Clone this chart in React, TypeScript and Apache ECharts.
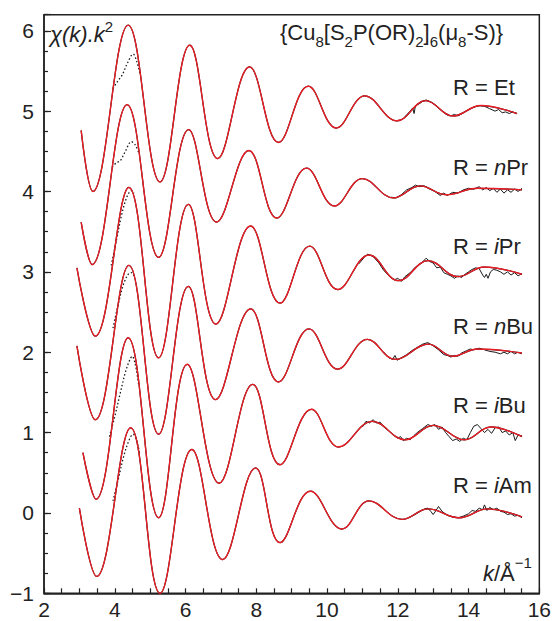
import { useEffect, useRef } from 'react';
import * as echarts from 'echarts';

const F = '"Liberation Sans", Arial, Helvetica, sans-serif';
const BLACK = '#1a1a1a';
const RED = '#ec1c24';

// Axis ranges / tick values
const xMin = 2, xMax = 16, xStep = 2;
const yMin = -1, yMax = 6.2, yStep = 1, yMinorStep = 0.25;

// ---- R = Et (offset 5) ----
const etFit = [[3.05,4.76],[3.38,4.0],[4.38,6.07],[5.28,4.12],[6.12,5.82],[6.91,4.41],[7.81,5.55],[8.63,4.61],[9.47,5.31],[10.26,4.79],[11.07,5.19],[11.98,4.88],[12.79,5.13],[13.56,4.94],[14.35,5.07],[15.37,4.97]];
const etDot = [[3.95,5.28],[4.08,5.37],[4.21,5.45],[4.36,5.6],[4.52,5.71],[4.62,5.62],[4.72,5.45]];
const etNoise = [[12.2,4.93],[12.35,5.0],[12.42,5.04],[12.46,4.97],[12.5,5.07],[12.6,5.09],[12.7,5.12],[12.8,5.14],[12.95,5.11],[13.1,5.06],[13.25,5.0],[13.4,4.95],[13.5,4.94],[13.6,4.96],[13.7,4.94],[13.85,4.98],[14.0,5.02],[14.15,5.05],[14.3,5.07],[14.45,5.06],[14.6,5.03],[14.75,5.0],[14.85,5.02],[14.95,4.98],[15.05,4.99],[15.15,4.97],[15.25,4.99],[15.37,4.97]];

// ---- R = nPr (offset 4) ----
const nprFit = [[3.05,3.62],[3.36,3.09],[4.35,5.08],[5.24,3.18],[6.09,4.77],[6.88,3.62],[7.79,4.51],[8.58,3.67],[9.42,4.29],[10.21,3.82],[11.0,4.16],[11.88,3.92],[12.63,4.07],[13.37,3.96],[14.25,4.04],[15.51,4.02]];
const nprDot = [[3.93,4.3],[4.05,4.36],[4.15,4.38],[4.3,4.5],[4.47,4.62],[4.58,4.58],[4.68,4.48]];
const nprNoise = [[11.8,3.93],[11.95,3.92],[12.1,3.96],[12.25,4.02],[12.4,4.05],[12.5,4.08],[12.6,4.06],[12.75,4.07],[12.9,4.03],[13.05,4.0],[13.2,3.95],[13.3,3.98],[13.4,3.95],[13.55,3.99],[13.7,3.98],[13.85,4.02],[14.0,4.04],[14.15,4.03],[14.3,4.06],[14.4,4.02],[14.5,4.05],[14.6,4.01],[14.7,4.04],[14.8,3.99],[14.9,4.03],[15.0,3.98],[15.1,4.02],[15.2,3.99],[15.3,4.03],[15.4,4.0],[15.51,4.04]];

// ---- R = iPr (offset 3) ----
const iprFit = [[2.93,3.05],[3.45,2.2],[4.4,4.05],[5.24,1.93],[6.08,3.84],[6.86,2.35],[7.84,3.57],[8.67,2.61],[9.51,3.32],[10.3,2.78],[11.19,3.21],[12.02,2.89],[12.86,3.14],[13.7,2.94],[14.44,3.06],[15.51,2.97]];
const iprDot = [[3.9,3.08],[4.05,3.4],[4.2,3.72],[4.35,3.94],[4.47,4.01],[4.55,3.98]];
const iprNoise = [[10.9,3.1],[11.05,3.18],[11.15,3.22],[11.3,3.19],[11.45,3.12],[11.6,3.02],[11.75,2.95],[11.9,2.9],[12.0,2.92],[12.1,2.88],[12.2,2.94],[12.35,2.99],[12.5,3.06],[12.65,3.1],[12.8,3.17],[12.9,3.13],[13.0,3.11],[13.1,3.05],[13.2,3.06],[13.3,2.99],[13.4,2.97],[13.5,2.95],[13.6,2.92],[13.7,2.95],[13.8,2.93],[13.9,2.97],[14.0,3.0],[14.1,3.03],[14.2,3.05],[14.3,3.04],[14.4,2.96],[14.45,2.93],[14.5,2.97],[14.55,2.92],[14.62,3.0],[14.7,3.03],[14.8,3.02],[14.9,3.0],[15.0,2.97],[15.1,3.0],[15.2,2.96],[15.3,2.99],[15.4,2.95],[15.51,2.98]];

// ---- R = nBu (offset 2) ----
const nbuFit = [[2.93,2.08],[3.45,1.16],[4.4,3.08],[5.24,0.98],[6.08,2.82],[6.85,1.41],[7.84,2.54],[8.63,1.63],[9.49,2.29],[10.3,1.79],[11.14,2.16],[11.93,1.91],[12.86,2.1],[13.56,1.95],[14.25,2.04],[15.51,1.99]];
const nbuDot = [[3.95,2.3],[4.1,2.6],[4.25,2.85],[4.38,2.97],[4.47,2.99],[4.55,2.95]];
const nbuNoise = [[11.6,2.0],[11.75,1.93],[11.85,1.91],[11.92,1.96],[11.98,1.9],[12.1,1.93],[12.25,1.97],[12.4,2.02],[12.55,2.06],[12.7,2.1],[12.85,2.12],[13.0,2.08],[13.15,2.03],[13.3,1.97],[13.4,1.96],[13.5,1.94],[13.6,1.96],[13.7,1.95],[13.8,1.99],[13.95,2.02],[14.05,2.04],[14.15,2.03],[14.3,2.05],[14.45,2.03],[14.6,2.01],[14.75,2.0],[14.9,1.98],[15.0,2.0],[15.1,1.98],[15.2,2.01],[15.3,1.98],[15.4,2.0],[15.51,1.98]];

// ---- R = iBu (offset 1) ----
const ibuFit = [[3.1,0.75],[3.47,0.17],[4.38,2.18],[5.24,-0.06],[6.05,1.85],[6.95,0.37],[7.9,1.6],[8.67,0.6],[9.56,1.29],[10.33,0.82],[11.28,1.14],[12.21,0.91],[13.0,1.09],[13.88,0.91],[14.63,1.07],[15.51,0.95]];
const ibuDot = [[3.85,0.95],[4.0,1.2],[4.15,1.48],[4.3,1.75],[4.42,1.9],[4.49,1.95],[4.58,1.85],[4.68,1.58]];
const ibuNoise = [[11.0,1.07],[11.1,1.14],[11.2,1.12],[11.3,1.16],[11.4,1.12],[11.5,1.13],[11.6,1.07],[11.75,1.02],[11.9,0.96],[12.0,0.93],[12.08,0.95],[12.15,0.9],[12.25,0.93],[12.35,0.91],[12.45,0.96],[12.55,1.0],[12.7,1.05],[12.85,1.1],[12.95,1.08],[13.05,1.1],[13.15,1.04],[13.25,1.07],[13.35,1.0],[13.45,0.95],[13.55,0.9],[13.65,0.92],[13.75,0.89],[13.85,0.93],[13.95,0.91],[14.05,1.0],[14.15,1.08],[14.25,1.1],[14.35,1.05],[14.45,1.0],[14.55,1.04],[14.65,0.99],[14.75,1.06],[14.85,1.07],[14.95,1.0],[15.05,1.02],[15.15,0.97],[15.25,1.0],[15.32,0.9],[15.4,0.97],[15.51,0.96]];

// ---- R = iAm (offset 0) ----
const iamFit = [[3.0,0.06],[3.49,-0.79],[4.45,1.06],[5.28,-1.0],[6.18,0.79],[7.05,-0.58],[7.98,0.56],[8.67,-0.37],[9.53,0.27],[10.42,-0.2],[11.19,0.15],[12.12,-0.08],[12.86,0.05],[13.74,-0.06],[14.53,0.05],[15.51,-0.05]];
const iamDot = [[3.95,0.15],[4.1,0.42],[4.25,0.7],[4.4,0.9],[4.52,0.98],[4.6,0.93],[4.7,0.75]];
const iamNoise = [[12.3,-0.06],[12.45,-0.03],[12.6,0.01],[12.75,0.05],[12.85,0.06],[12.93,0.02],[13.0,-0.02],[13.08,0.03],[13.15,0.08],[13.25,0.02],[13.4,-0.03],[13.55,-0.05],[13.7,-0.06],[13.85,-0.04],[14.0,-0.01],[14.1,0.03],[14.2,0.02],[14.3,0.06],[14.4,0.04],[14.45,0.1],[14.52,0.03],[14.6,0.07],[14.7,0.04],[14.8,0.06],[14.9,0.02],[15.0,0.01],[15.1,-0.02],[15.2,-0.01],[15.3,-0.04],[15.4,-0.03],[15.51,-0.06]];

const sampleLabels = ['{a|R = Et}', '{a|R = }{i|n}{a|Pr}', '{a|R = }{i|i}{a|Pr}', '{a|R = }{i|n}{a|Bu}', '{a|R = }{i|i}{a|Bu}', '{a|R = }{i|i}{a|Am}'];
const fits = [etFit, nprFit, iprFit, nbuFit, ibuFit, iamFit];
const dots = [etDot, nprDot, iprDot, nbuDot, ibuDot, iamDot];
const noises = [etNoise, nprNoise, iprNoise, nbuNoise, ibuNoise, iamNoise];

export default function App() {
  const ref = useRef<HTMLDivElement>(null);
  useEffect(() => {
    if (!ref.current) return;
    const chart = echarts.init(ref.current, undefined, { renderer: 'svg' });

    const rich = (lh: number, off: number) => ({
      a: { fontSize: 22, fontFamily: F, fill: '#222', lineHeight: lh },
      i: { fontSize: 22, fontFamily: F, fill: '#222', lineHeight: lh, fontStyle: 'italic' },
      s: { fontSize: 15, fontFamily: F, fill: '#222', lineHeight: off, verticalAlign: 'bottom' },
      p: { fontSize: 15, fontFamily: F, fill: '#222', lineHeight: off, verticalAlign: 'top' },
    });

    const labelY = [87, 167, 246, 326, 405, 485];

    const graphic: any[] = [
      {
        type: 'text', x: 50, y: 34, z: 10,
        style: { text: '{i|χ(k).k}{p|2}', rich: rich(30, 15), verticalAlign: 'middle', align: 'left', fontSize: 22, fontFamily: F, fill: '#222' },
      },
      {
        type: 'text', x: 280, y: 32, z: 10,
        style: {
          text: '{a|{Cu}{s|8}{a|[S}{s|2}{a|P(OR)}{s|2}{a|]}{s|6}{a|(μ}{s|8}{a|-S)}}',
          rich: rich(34, 15), verticalAlign: 'middle', align: 'left', fontSize: 22, fontFamily: F, fill: '#222', lineHeight: 34,
        },
      },
      {
        type: 'text', x: 483, y: 573, z: 10,
        style: { text: '{i|k}{a|/Å}{p|−1}', rich: rich(36, 15), verticalAlign: 'middle', align: 'left', fontSize: 22, fontFamily: F, fill: '#222' },
      },
      ...sampleLabels.map((t, i) => ({
        type: 'text', x: 453, y: labelY[i], z: 10,
        style: { text: t, rich: rich(30, 15), verticalAlign: 'middle', align: 'left', fontSize: 22, fontFamily: F, fill: '#222' },
      })),
    ];

    const series: any[] = [];
    fits.forEach((d) => series.push({ type: 'line', data: d, smooth: 0.4, symbol: 'none', silent: true, lineStyle: { color: BLACK, width: 1.25 } }));
    noises.forEach((d) => series.push({ type: 'line', data: d, smooth: false, symbol: 'none', silent: true, lineStyle: { color: BLACK, width: 1.0 } }));
    dots.forEach((d) => series.push({ type: 'line', data: d, smooth: 0.35, symbol: 'none', silent: true, lineStyle: { color: BLACK, width: 1.3, type: [1.5, 2.2] } }));
    fits.forEach((d) => series.push({ type: 'line', data: d, smooth: 0.4, symbol: 'none', silent: true, lineStyle: { color: RED, width: 1.35 } }));

    const axisCol = '#222';
    chart.setOption({
      animation: false,
      backgroundColor: '#fff',
      grid: { left: 44, right: 8, top: 14.7, bottom: 27.7, show: true, borderColor: axisCol, borderWidth: 1.5, backgroundColor: 'transparent' },
      xAxis: {
        type: 'value', min: xMin, max: xMax, interval: xStep,
        axisLine: { show: true, onZero: false, lineStyle: { color: axisCol, width: 1.5 } },
        axisTick: { show: true, inside: true, length: 5, lineStyle: { color: axisCol, width: 1.2 } },
        minorTick: { show: true, splitNumber: 4, length: 5, lineStyle: { color: axisCol, width: 1.2 } },
        axisLabel: { fontSize: 21, fontFamily: F, color: axisCol, margin: 6 },
        splitLine: { show: false },
        minorSplitLine: { show: false },
      },
      yAxis: [
        {
          type: 'value', min: yMin, max: yMax, interval: yStep,
          axisLine: { show: true, onZero: false, lineStyle: { color: axisCol, width: 1.5 } },
          axisTick: { show: true, inside: true, length: 7, lineStyle: { color: axisCol, width: 1.2 } },
          axisLabel: {
            fontSize: 21, fontFamily: F, color: axisCol, margin: 10,
            formatter: (v: number) => (Math.abs(v - Math.round(v)) > 1e-6 ? '' : v < 0 ? '−' + Math.abs(v) : String(v)),
          },
          splitLine: { show: false },
        },
        {
          type: 'value', min: yMin, max: yMax, interval: yMinorStep, position: 'left',
          axisLine: { show: false, onZero: false },
          axisTick: { show: true, inside: true, length: 4, lineStyle: { color: axisCol, width: 1.2 } },
          axisLabel: { show: false },
          splitLine: { show: false },
        },
      ],
      series,
      graphic,
    });
    return () => chart.dispose();
  }, []);
  return <div ref={ref} style={{ position: 'fixed', left: 0, top: 0, width: 554, height: 621 }} />;
}
